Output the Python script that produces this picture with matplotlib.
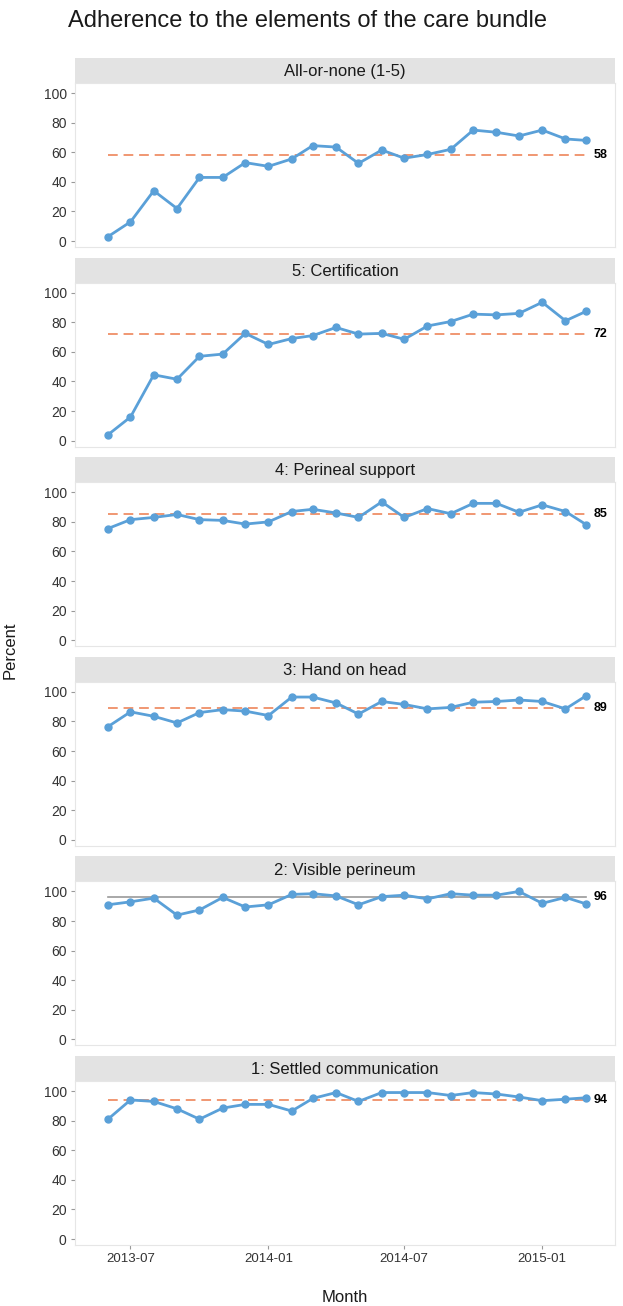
import matplotlib
matplotlib.use("Agg")
import matplotlib.pyplot as plt
import matplotlib.dates as mdates
import pandas as pd

months = pd.date_range("2013-06-01", "2015-03-01", freq="MS")

titles = ["All-or-none (1-5)", "5: Certification", "4: Perineal support",
          "3: Hand on head", "2: Visible perineum", "1: Settled communication"]

all_or_none = [3, 13, 34, 22, 43, 43, 53, 50.5, 55.5, 64.5, 63.5, 52.5, 61.5, 56,
               58.5, 62, 75, 73.5, 71, 75, 69, 68]
certification = [4, 16, 44.5, 41.5, 57, 58.5, 72.5, 65, 69, 71, 76.5, 72, 72.5, 68.5,
                 77.5, 80.5, 85.5, 85, 86, 93.5, 81, 87.5]
perineal_support = [75.5, 81.5, 83, 85, 81.5, 81, 78.5, 80, 87, 88.5, 86, 83, 93.5, 83,
                    89, 85.5, 92.5, 92.5, 86.5, 91.5, 87, 78]
hand_on_head = [76.5, 86.5, 83.5, 79, 86, 88, 87, 84, 96.5, 96.5, 92.5, 85, 93.5, 91.5,
                88.5, 89.5, 93, 93.5, 94.5, 93.5, 88.5, 97.5]
visible_perineum = [91, 93, 95.5, 84, 87.5, 96, 89.5, 91, 98, 98.5, 97, 91, 96.5, 97.5,
                    95, 98.5, 97.5, 97.5, 100, 92, 96, 91.5]
settled_comm = [81, 94, 93, 88, 81, 88.5, 91, 91, 86.5, 95, 99, 93, 99, 99, 99, 97,
                99, 98, 96, 93.5, 94.5, 95.5]

series = [all_or_none, certification, perineal_support, hand_on_head,
          visible_perineum, settled_comm]
medians = [58, 72, 85, 89, 96, 94]
signal = [True, True, True, True, False, True]

plt.rcParams["font.family"] = ["Liberation Sans", "DejaVu Sans"]

W, H = 623, 1306
fig = plt.figure(figsize=(W / 100, H / 100), dpi=100)

left, right = 75, 615
period = 199.6
strip_h = 25
plot_h = 164

line_col = "#5AA0D8"
med_col = "#EE8559"
x0 = months[0] - pd.Timedelta(days=44)
x1 = months[-1] + pd.Timedelta(days=38)

for i, (t, y) in enumerate(zip(titles, series)):
    top = 58 + i * period
    # strip
    sax = fig.add_axes([left / W, 1 - (top + strip_h) / H, (right - left) / W, strip_h / H])
    sax.set_facecolor("#E3E3E3")
    sax.set_xticks([])
    sax.set_yticks([])
    for s in sax.spines.values():
        s.set_visible(False)
    sax.text(0.5, 0.45, t, ha="center", va="center", fontsize=12, color="#1A1A1A",
             transform=sax.transAxes)

    ax = fig.add_axes([left / W, 1 - (top + strip_h + plot_h) / H, (right - left) / W, plot_h / H])
    ax.plot(months, y, color=line_col, lw=2, marker="o", ms=5, zorder=3)
    if signal[i]:
        ax.plot([months[0], months[-1]], [medians[i]] * 2, color=med_col, lw=1.4,
                ls=(0, (5, 3)), alpha=0.85, zorder=2)
    else:
        ax.plot([months[0], months[-1]], [medians[i]] * 2, color="#9A9A9A", lw=1.2, zorder=2)
    ax.text(months[-1] + pd.Timedelta(days=10), medians[i], str(medians[i]),
            ha="left", va="center", fontsize=9, fontweight="bold", color="black")
    ax.set_xlim(x0, x1)
    ax.set_ylim(-4, 106.8)
    ax.set_yticks([0, 20, 40, 60, 80, 100])
    ax.tick_params(axis="y", length=3, color="#999999", labelsize=10, labelcolor="#333333", pad=3)
    for s in ax.spines.values():
        s.set_color("#E6E6E6")
        s.set_linewidth(0.8)
    ax.xaxis.set_major_locator(mdates.MonthLocator(bymonth=[1, 7]))
    ax.xaxis.set_major_formatter(mdates.DateFormatter("%Y-%m"))
    if i < len(titles) - 1:
        ax.tick_params(axis="x", length=0, labelbottom=False)
    else:
        ax.tick_params(axis="x", length=3, color="#999999", labelsize=9.5, labelcolor="#333333", pad=3)
        ax.set_xlabel("Month", fontsize=12, color="#1A1A1A", labelpad=18)

fig.text(10 / W, 1 - 650 / H, "Percent", rotation=90, ha="center", va="center",
         fontsize=12, color="#1A1A1A")
fig.text(68 / W, 1 - 21 / H, "Adherence to the elements of the care bundle",
         ha="left", va="center", fontsize=17, color="#1A1A1A")

fig.savefig("out.png", dpi=100)
